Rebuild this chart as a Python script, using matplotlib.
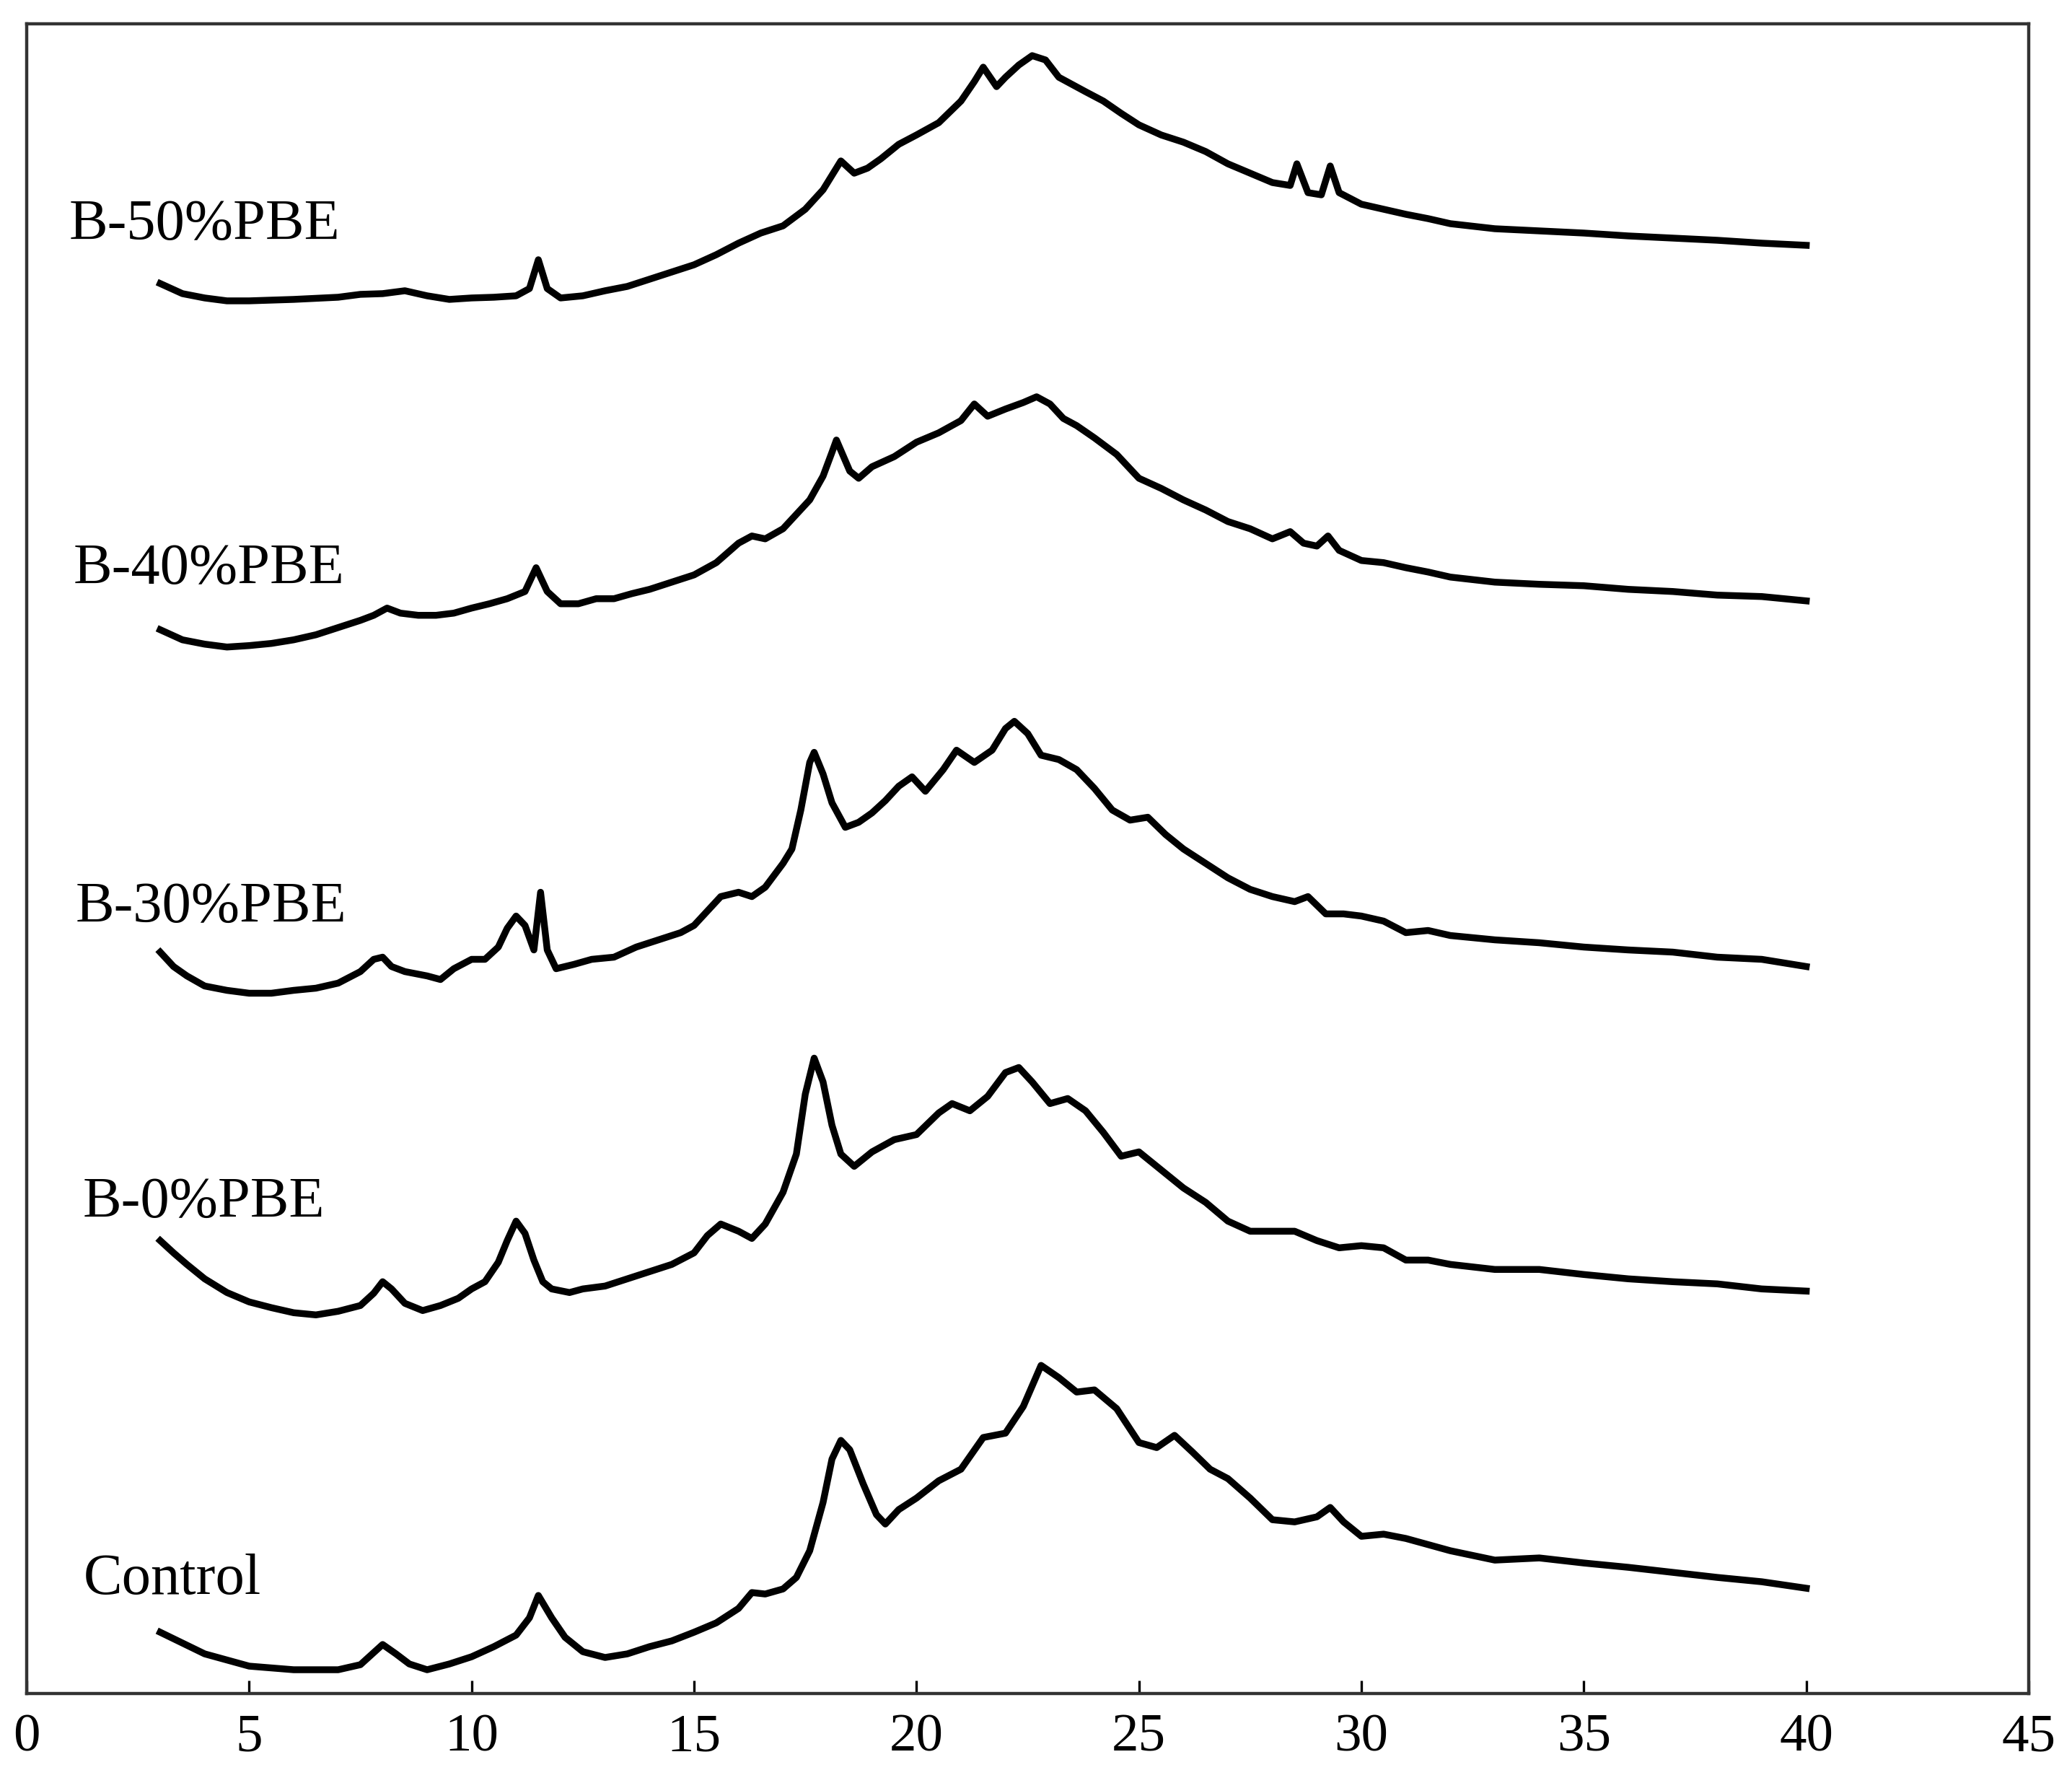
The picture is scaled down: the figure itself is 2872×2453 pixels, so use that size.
import matplotlib.pyplot as plt

plt.rcParams["font.family"] = ["Liberation Serif", "DejaVu Serif"]

# --- data (2-theta in degrees, intensity in arbitrary units) ---

control_x = [3, 4, 5, 6, 7, 7.5, 8.0, 8.3, 8.6, 9, 9.5, 10, 10.5, 11, 11.3, 11.5, 11.8, 12.1,
             12.5, 13, 13.5, 14, 14.5, 15, 15.5, 16, 16.3, 16.6, 17, 17.3, 17.6, 17.9, 18.1,
             18.3, 18.5, 18.8, 19.1, 19.3, 19.6, 20, 20.5, 21, 21.5, 22, 22.4, 22.8, 23.2,
             23.6, 24, 24.5, 25, 25.4, 25.8, 26.2, 26.6, 27, 27.5, 28, 28.5, 29, 29.3, 29.6,
             30, 30.5, 31, 32, 33, 34, 35, 36, 37, 38, 39, 40]
control_y = [85, 55, 38, 33, 33, 40, 68, 55, 41, 33, 41, 51, 65, 81, 105, 136, 105, 78,
             58, 50, 55, 65, 73, 85, 98, 118, 140, 138, 145, 161, 198, 265, 325,
             351, 338, 291, 248, 235, 255, 271, 295, 311, 355, 361, 398, 455, 438,
             418, 421, 395, 348, 341, 358, 335, 311, 298, 271, 241, 238, 245, 258, 238,
             218, 221, 215, 198, 185, 188, 181, 175, 168, 161, 155, 146]

b0_x = [3, 3.3, 3.6, 4, 4.5, 5, 5.5, 6, 6.5, 7, 7.5, 7.8, 8.0, 8.2, 8.5, 8.9, 9.3, 9.7,
        10, 10.3, 10.6, 10.8, 11.0, 11.2, 11.4, 11.6, 11.8, 12.2, 12.5, 13, 13.5, 14,
        14.5, 15, 15.3, 15.6, 16, 16.3, 16.6, 17, 17.3, 17.5, 17.7, 17.9, 18.1, 18.3,
        18.6, 19, 19.5, 20, 20.5, 20.8, 21.2, 21.6, 22, 22.3, 22.6, 23, 23.4, 23.8,
        24.2, 24.6, 25, 25.4, 26, 26.5, 27, 27.5, 28, 28.5, 29, 29.5, 30, 30.5, 31,
        31.5, 32, 33, 34, 35, 36, 37, 38, 39, 40]
b0_y = [628, 611, 595, 575, 556, 543, 535, 528, 525, 530, 538, 555, 571, 561, 541, 531, 538, 548,
        561, 571, 598, 628, 655, 638, 601, 571, 561, 556, 561, 565, 575, 585,
        595, 611, 635, 651, 641, 631, 651, 695, 748, 831, 881, 848, 788, 748,
        731, 751, 768, 775, 805, 818, 808, 828, 861, 868, 848, 818, 825, 808,
        778, 745, 751, 731, 701, 681, 655, 641, 641, 641, 628, 618, 621, 618, 601,
        601, 595, 588, 588, 581, 575, 571, 568, 561, 558]

b30_x = [3, 3.3, 3.6, 4, 4.5, 5, 5.5, 6, 6.5, 7, 7.5, 7.8, 8.0, 8.2, 8.5, 9, 9.3, 9.6,
         10, 10.3, 10.6, 10.8, 11.0, 11.2, 11.4, 11.55, 11.7, 11.9, 12.3, 12.7, 13.2,
         13.7, 14.2, 14.7, 15, 15.3, 15.6, 16, 16.3, 16.6, 17, 17.2, 17.4, 17.6, 17.7,
         17.9, 18.1, 18.4, 18.7, 19, 19.3, 19.6, 19.9, 20.2, 20.6, 20.9, 21.3, 21.7,
         22, 22.2, 22.5, 22.8, 23.2, 23.6, 24, 24.4, 24.8, 25.2, 25.6, 26, 26.5, 27,
         27.5, 28, 28.5, 28.8, 29.2, 29.6, 30, 30.5, 31, 31.5, 32, 33, 34, 35, 36, 37,
         38, 39, 40]
b30_y = [1028, 1008, 995, 981, 975, 971, 971, 975, 978, 985, 1001, 1018, 1021, 1008, 1001, 995, 990, 1005,
         1018, 1018, 1035, 1061, 1078, 1065, 1031, 1111, 1031, 1005, 1011, 1018, 1021,
         1035, 1045, 1055, 1065, 1085, 1105, 1111, 1105, 1118, 1151, 1171, 1225, 1291, 1305,
         1275, 1235, 1201, 1208, 1221, 1238, 1258, 1271, 1251, 1281, 1308, 1291, 1308,
         1338, 1348, 1331, 1301, 1295, 1281, 1255, 1225, 1211, 1215, 1191, 1171, 1151, 1131,
         1115, 1105, 1098, 1105, 1081, 1081, 1078, 1071, 1055, 1058, 1051, 1045, 1041, 1035, 1031, 1028,
         1021, 1018, 1008]

b40_x = [3, 3.5, 4, 4.5, 5, 5.5, 6, 6.5, 7, 7.5, 7.8, 8.1, 8.4, 8.8, 9.2, 9.6, 10, 10.4,
         10.8, 11.2, 11.45, 11.7, 12.0, 12.4, 12.8, 13.2, 13.6, 14, 14.5, 15, 15.5, 16,
         16.3, 16.6, 17, 17.3, 17.6, 17.9, 18.1, 18.2, 18.5, 18.7, 19, 19.5, 20, 20.5,
         21, 21.3, 21.6, 22, 22.4, 22.7, 23, 23.3, 23.6, 24, 24.5, 25, 25.5, 26, 26.5,
         27, 27.5, 28, 28.4, 28.7, 29, 29.25, 29.5, 30, 30.5, 31, 31.5, 32, 33, 34, 35,
         36, 37, 38, 39, 40]
b40_y = [1475, 1461, 1455, 1451, 1453, 1456, 1461, 1468, 1478, 1488, 1495, 1505, 1498, 1495, 1495, 1498, 1505, 1511,
         1518, 1528, 1561, 1528, 1511, 1511, 1518, 1518, 1525, 1531, 1541, 1551, 1568, 1595,
         1605, 1601, 1615, 1635, 1655, 1688, 1721, 1738, 1695, 1685, 1701, 1715, 1735, 1748,
         1765, 1788, 1771, 1781, 1790, 1798, 1788, 1768, 1758, 1741, 1718, 1685, 1671, 1655, 1641,
         1625, 1615, 1601, 1611, 1595, 1591, 1605, 1585, 1571, 1568, 1561, 1555, 1548, 1541, 1538, 1536,
         1531, 1528, 1523, 1521, 1515]

b50_x = [3, 3.5, 4, 4.5, 5, 6, 7, 7.5, 8, 8.5, 9, 9.5, 10, 10.5, 11, 11.3, 11.5, 11.7,
         12.0, 12.5, 13, 13.5, 14, 14.5, 15, 15.5, 16, 16.5, 17, 17.5, 17.9, 18.1, 18.3,
         18.6, 18.9, 19.2, 19.6, 20, 20.5, 21, 21.3, 21.5, 21.8, 22, 22.3, 22.6, 22.9,
         23.2, 23.5, 23.8, 24.2, 24.6, 25, 25.5, 26, 26.5, 27, 27.5, 28, 28.4, 28.55,
         28.8, 29.1, 29.3, 29.5, 30, 30.5, 31, 31.5, 32, 33, 34, 35, 36, 37, 38, 39, 40]
b50_y = [1955, 1941, 1935, 1931, 1931, 1933, 1936, 1940, 1941, 1945, 1938, 1933, 1935, 1936, 1938, 1948, 1988, 1948,
         1935, 1938, 1945, 1951, 1961, 1971, 1981, 1995, 2011, 2025, 2035, 2058, 2085, 2105, 2125,
         2108, 2115, 2128, 2148, 2161, 2178, 2208, 2235, 2255, 2228, 2241, 2258, 2271, 2265,
         2241, 2231, 2221, 2208, 2191, 2175, 2161, 2151, 2138, 2121, 2108, 2095, 2091, 2121,
         2081, 2078, 2118, 2081, 2065, 2058, 2051, 2045, 2038, 2031, 2028, 2025, 2021, 2018, 2015, 2011, 2008]

series = [
    ("Control", control_x, control_y, 1.28, 158),
    ("B-0%PBE", b0_x, b0_y, 1.25, 680),
    ("B-30%PBE", b30_x, b30_y, 1.10, 1089),
    ("B-40%PBE", b40_x, b40_y, 1.04, 1558),
    ("B-50%PBE", b50_x, b50_y, 0.95, 2036),
]

fig = plt.figure(figsize=(14.36, 12.265), dpi=200)
ax = fig.add_axes([0.0129, 0.0432, 0.9662, 0.9433])

for name, xs, ys, lx, ly in series:
    ax.plot(xs, ys, color="black", lw=3.4, solid_joinstyle="round")
    ax.text(lx, ly, name, fontsize=29, va="center", ha="left")

ax.set_xlim(0, 45)
ax.set_ylim(0, 2315)
ax.set_xticks(range(0, 50, 5))
ax.set_yticks([])
ax.tick_params(axis="x", direction="in", length=6.5, width=1.2, labelsize=27, pad=10)
for sp in ax.spines.values():
    sp.set_linewidth(1.6)
    sp.set_color("#333333")

fig.savefig("out.png", dpi=200)
